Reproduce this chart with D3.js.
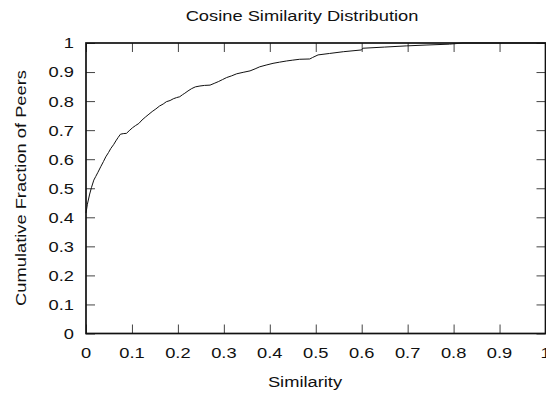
<!DOCTYPE html>
<html>
<head>
<meta charset="utf-8">
<script src="https://cdn.jsdelivr.net/npm/d3@7"></script>
<style>
  html, body { margin: 0; padding: 0; background: #fff; }
  svg { display: block; }
  text { font-family: "Liberation Sans", Arial, Helvetica, sans-serif; fill: #111; }
</style>
</head>
<body>
<svg id="chart" width="546" height="394"></svg>
<script>
// Cumulative distribution of cosine similarity between peers
const similarity = [0, 0.003, 0.008, 0.012, 0.017, 0.021, 0.026, 0.032, 0.038, 0.043,
  0.049, 0.054, 0.060, 0.065, 0.070, 0.075, 0.081, 0.088, 0.094, 0.101,
  0.108, 0.115, 0.122, 0.130, 0.137, 0.144, 0.152, 0.160, 0.168, 0.175,
  0.183, 0.190, 0.197, 0.204, 0.210, 0.215, 0.222, 0.230, 0.238, 0.248,
  0.258, 0.270, 0.279, 0.288, 0.297, 0.306, 0.317, 0.328, 0.342, 0.357,
  0.368, 0.378, 0.392, 0.407, 0.421, 0.436, 0.450, 0.465, 0.487, 0.493,
  0.505, 0.530, 0.560, 0.599, 0.603, 0.650, 0.697, 0.740, 0.791, 0.820,
  0.900, 1.0];
const cumulativeFraction = [0.415, 0.445, 0.48, 0.503, 0.528, 0.540, 0.555, 0.574, 0.592, 0.608,
  0.623, 0.637, 0.650, 0.663, 0.675, 0.686, 0.688, 0.689, 0.698, 0.708,
  0.716, 0.723, 0.735, 0.746, 0.755, 0.764, 0.773, 0.783, 0.790, 0.798,
  0.802, 0.808, 0.812, 0.815, 0.822, 0.827, 0.835, 0.843, 0.849, 0.852,
  0.854, 0.855, 0.861, 0.867, 0.874, 0.881, 0.887, 0.894, 0.899, 0.904,
  0.911, 0.918, 0.924, 0.930, 0.934, 0.938, 0.941, 0.944, 0.945, 0.950,
  0.959, 0.964, 0.970, 0.976, 0.982, 0.986, 0.990, 0.993, 0.996, 1.0,
  1.0, 1.0];
const xTicks = [0, 0.1, 0.2, 0.3, 0.4, 0.5, 0.6, 0.7, 0.8, 0.9, 1];
const yTicks = [0, 0.1, 0.2, 0.3, 0.4, 0.5, 0.6, 0.7, 0.8, 0.9, 1];
const title = "Cosine Similarity Distribution";
const xLabel = "Similarity";
const yLabel = "Cumulative Fraction of Peers";

const svg = d3.select("#chart");
const plotLeft = 86, plotRight = 545.5, plotTop = 43, plotBottom = 333.5;
const fontSize = 15;
const stretch = 1.22; // wide glyphs, as in the original terminal font

const x = d3.scaleLinear().domain([0, 1]).range([plotLeft, plotRight]);
const y = d3.scaleLinear().domain([0, 1]).range([plotBottom, plotTop]);

const fmt = d => d === 0 ? "0" : d === 1 ? "1" : d3.format(".1f")(d);
const tickLen = 9;

// horizontally widened label at (px, py), optionally rotated
function label(px, py, str, anchor, rotate = 0, dy = null) {
  const g = svg.append("g")
    .attr("transform", `translate(${px},${py}) rotate(${rotate}) scale(${stretch},1)`);
  const t = g.append("text")
    .attr("text-anchor", anchor)
    .attr("font-size", fontSize)
    .text(str);
  if (dy !== null) t.attr("dy", dy);
  return t;
}

// inward ticks on all four sides
const axes = [
  svg.append("g").attr("transform", `translate(0,${plotBottom})`)
    .call(d3.axisBottom(x).tickValues(xTicks).tickFormat("").tickSize(-tickLen)),
  svg.append("g").attr("transform", `translate(0,${plotTop})`)
    .call(d3.axisTop(x).tickValues(xTicks).tickFormat("").tickSize(-tickLen)),
  svg.append("g").attr("transform", `translate(${plotLeft},0)`)
    .call(d3.axisLeft(y).tickValues(yTicks).tickFormat("").tickSize(-tickLen)),
  svg.append("g").attr("transform", `translate(${plotRight},0)`)
    .call(d3.axisRight(y).tickValues(yTicks).tickFormat("").tickSize(-tickLen))
];
axes.forEach(g => {
  g.select(".domain").remove();
  g.selectAll(".tick line").attr("stroke", "#444").attr("stroke-width", 1);
});

// tick labels
xTicks.forEach(d => label(x(d), 358, fmt(d), "middle"));
yTicks.forEach(d => label(74, y(d), fmt(d), "end", 0, "0.36em"));

// plot border
svg.append("rect")
  .attr("x", plotLeft).attr("y", plotTop)
  .attr("width", plotRight - plotLeft).attr("height", plotBottom - plotTop)
  .attr("fill", "none").attr("stroke", "#111").attr("stroke-width", 1.7);

// distribution curve
const points = similarity.map((s, i) => [s, cumulativeFraction[i]]);
svg.append("path")
  .datum(points)
  .attr("fill", "none")
  .attr("stroke", "#111")
  .attr("stroke-width", 1)
  .attr("d", d3.line().x(d => x(d[0])).y(d => y(d[1])));

label(302, 21, title, "middle");
label(305, 387, xLabel, "middle");
label(26, 188, yLabel, "middle", -90);
</script>
</body>
</html>
